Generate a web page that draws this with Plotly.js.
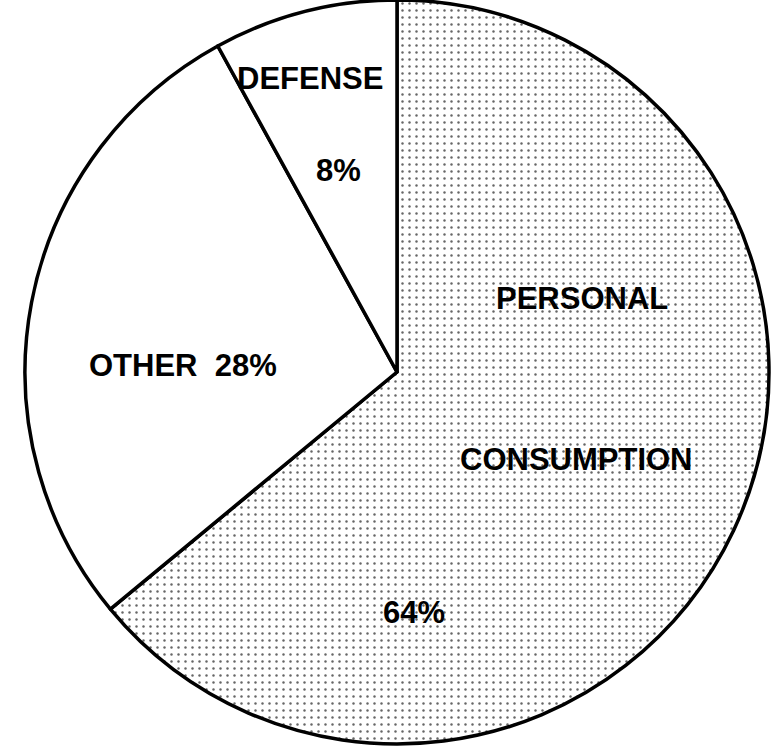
<!DOCTYPE html>
<html>
<head>
<meta charset="utf-8">
<script src="https://cdn.plot.ly/plotly-3.0.1.min.js"></script>
<style>html,body{margin:0;padding:0;background:#fff;}#chart{width:781px;height:748px;}</style>
</head>
<body>
<div id="chart"></div>
<script>
// Data
var categories = ['PERSONAL CONSUMPTION', 'OTHER', 'DEFENSE'];
var values = [64, 28, 8];
var labelLines = [['PERSONAL', 'CONSUMPTION'], ['OTHER'], ['DEFENSE']];

var W = 781, H = 748;
function px(x) { return x / W; }
function py(y) { return 1 - y / H; }

var trace = {
  type: 'pie',
  labels: categories,
  values: values,
  sort: false,
  direction: 'clockwise',
  rotation: 0,
  textinfo: 'none',
  hoverinfo: 'none',
  showlegend: false,
  domain: {x: [px(397 - 372), px(397 + 372)], y: [py(744), 1]},
  marker: {
    colors: ['#ffffff', '#ffffff', '#ffffff'],
    line: {color: '#000000', width: 3.5},
    pattern: {
      shape: ['.', '', ''],
      fgcolor: '#666666',
      bgcolor: '#ffffff',
      size: 7,
      solidity: 0.1
    }
  }
};

var fnt = {family: 'Liberation Sans, Arial, sans-serif', size: 31, color: '#000'};
function ann(text, x, y) {
  return {text: '<b>' + text + '</b>', x: px(x), y: py(y), xref: 'paper', yref: 'paper',
          xanchor: 'center', yanchor: 'middle', showarrow: false, font: fnt,
          bgcolor: 'rgba(0,0,0,0)'};
}
var pct = values.map(function (v) { return v + '%'; });

var annotations = [
  ann(labelLines[2][0], 310, 79),
  ann(pct[2], 338, 170),
  ann(labelLines[1][0] + '  ' + pct[1], 183, 366),
  ann(labelLines[0][0], 582, 298),
  ann(labelLines[0][1], 576, 459),
  ann(pct[0], 414, 612)
];

var layout = {
  width: W, height: H,
  margin: {l: 0, r: 0, t: 0, b: 0},
  paper_bgcolor: '#ffffff',
  plot_bgcolor: '#ffffff',
  annotations: annotations
};

Plotly.newPlot('chart', [trace], layout, {staticPlot: true, displayModeBar: false});
</script>
</body>
</html>
